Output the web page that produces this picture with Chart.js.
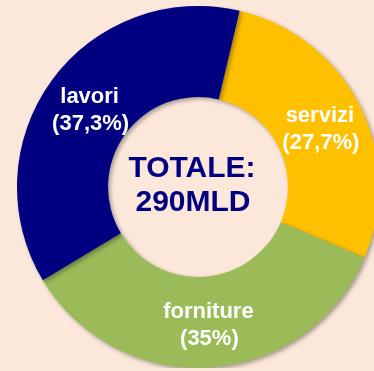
<!DOCTYPE html>
<html>
<head>
<meta charset="utf-8">
<script src="https://cdn.jsdelivr.net/npm/chart.js@4/dist/chart.umd.min.js"></script>
<style>
  html, body { margin: 0; padding: 0; width: 374px; height: 371px; overflow: hidden; background: #FCE8DA; }
  #wrap { position: absolute; left: 17px; top: 6px; width: 362px; height: 362px; }
</style>
</head>
<body>
<div id="wrap"><canvas id="appalti"></canvas></div>
<script>
const categories = ['servizi', 'forniture', 'lavori'];
const shares = [27.7, 35, 37.3];
const shareLabels = ['(27,7%)', '(35%)', '(37,3%)'];
const sliceColors = ['#FFC000', '#9BBB59', '#000080'];
const totalLines = ['TOTALE:', '290MLD'];

// soft shadow under the ring
const ringShadow = {
    id: 'ringShadow',
    beforeDatasetsDraw(chart) {
        const c = chart.ctx;
        c.save();
        c.shadowColor = 'rgba(0,0,0,0.35)';
        c.shadowBlur = 4;
        c.shadowOffsetX = 2;
        c.shadowOffsetY = 2;
    },
    afterDatasetsDraw(chart) {
        chart.ctx.restore();
    }
};

// slice names + percentages, and the total in the hole
const textLayer = {
    id: 'textLayer',
    afterDraw(chart) {
        const c = chart.ctx;
        const meta = chart.getDatasetMeta(0);
        c.save();
        c.textAlign = 'center';
        c.textBaseline = 'middle';
        c.fillStyle = '#FFFFFF';
        c.font = 'bold 22px "Liberation Sans", Arial, sans-serif';
        meta.data.forEach((arc, i) => {
            const p = arc.getCenterPoint();
            c.fillText(categories[i], p.x + 1, p.y - 10);
            c.fillText(shareLabels[i], p.x + 2, p.y + 17);
        });
        const cx = (chart.chartArea.left + chart.chartArea.right) / 2;
        const cy = (chart.chartArea.top + chart.chartArea.bottom) / 2;
        c.fillStyle = '#000080';
        c.font = 'bold 30px "Liberation Sans", Arial, sans-serif';
        c.textBaseline = 'alphabetic';
        c.fillText(totalLines[0], cx - 6, cy - 10);
        c.fillText(totalLines[1], cx - 5, cy + 24);
        c.restore();
    }
};

const ctx = document.getElementById('appalti').getContext('2d');
const chart = new Chart(ctx, {
    type: 'doughnut',
    data: {
        labels: categories,
        datasets: [{
            data: shares,
            backgroundColor: sliceColors,
            borderWidth: 0
        }]
    },
    options: {
        responsive: true,
        maintainAspectRatio: false,
        animation: false,
        cutout: '49.7%',
        rotation: 13.3,
        layout: { padding: 0 },
        plugins: {
            legend: { display: false },
            tooltip: { enabled: false }
        }
    },
    plugins: [ringShadow, textLayer]
});
</script>
</body>
</html>
